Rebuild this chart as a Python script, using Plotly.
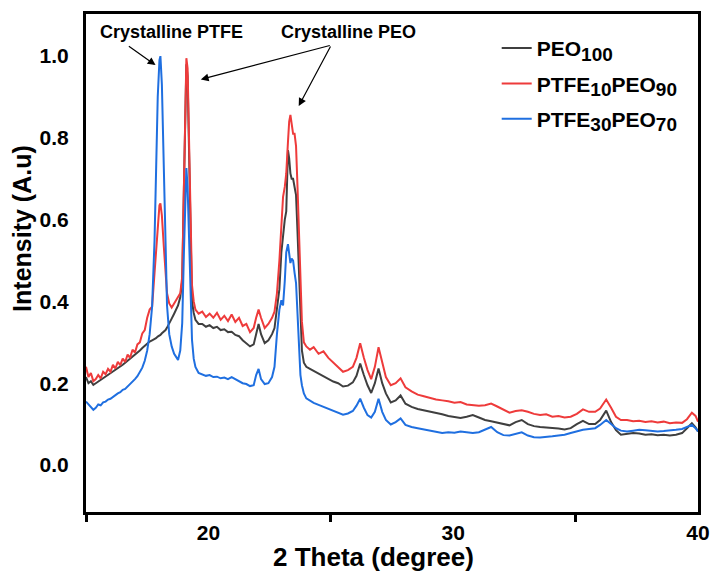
import plotly.graph_objects as go

# 2-theta grid (degrees)
two_theta = [
    15.0, 15.1, 15.2, 15.3, 15.4, 15.5, 15.6, 15.7, 15.8, 15.9, 16.0, 16.1, 16.2, 16.3, 16.4,
    16.5, 16.6, 16.7, 16.8, 16.9, 17.0, 17.1, 17.2, 17.3, 17.4, 17.5, 17.6,
    17.7, 17.8, 17.86, 17.93, 18.0, 18.04, 18.1, 18.18, 18.25, 18.31, 18.4, 18.5, 18.6, 18.7,
    18.76, 18.85, 18.93, 19.0, 19.05, 19.1, 19.15, 19.22, 19.28, 19.33, 19.4, 19.47,
    19.6, 19.75, 19.9, 20.05, 20.2, 20.35, 20.5, 20.65, 20.8, 20.95, 21.1, 21.25, 21.4, 21.55,
    21.7, 21.85, 21.95, 22.05, 22.15, 22.3, 22.45, 22.6, 22.7,
    22.8, 22.9, 22.98, 23.05, 23.12, 23.18, 23.25, 23.3, 23.35, 23.4, 23.46, 23.52, 23.58,
    23.64, 23.7, 23.76, 23.82, 23.9, 24.0,
    24.15, 24.3, 24.5, 24.7, 24.9, 25.1, 25.3, 25.5, 25.7, 25.9, 26.05, 26.2, 26.35, 26.5,
    26.65, 26.8, 26.95, 27.1, 27.25, 27.45, 27.65, 27.85, 28.05, 28.3, 28.55, 28.8, 29.05,
    29.3, 29.55, 29.8, 30.05, 30.3, 30.55, 30.8, 31.05, 31.3, 31.55, 31.8, 32.05, 32.3, 32.55,
    32.8, 33.05, 33.3, 33.55, 33.8, 34.05, 34.3, 34.55, 34.8, 35.05, 35.3, 35.55, 35.8, 36.0,
    36.25, 36.45, 36.65, 36.85, 37.1, 37.35, 37.6, 37.85, 38.1, 38.35, 38.6, 38.85, 39.1,
    39.35, 39.55, 39.75, 39.9, 40.0,
]

peo100 = [
    0.215, 0.2, 0.205, 0.196, 0.2, 0.204, 0.207, 0.212, 0.216, 0.22, 0.224, 0.228, 0.232, 0.236, 0.24,
    0.245, 0.25, 0.255, 0.258, 0.265, 0.268, 0.274, 0.28, 0.286, 0.292, 0.296, 0.302,
    0.305, 0.308, 0.31, 0.314, 0.316, 0.318, 0.322, 0.326, 0.33, 0.336, 0.345, 0.358, 0.37, 0.382,
    0.39, 0.41, 0.45, 0.68, 0.88, 0.98, 0.95, 0.7, 0.5, 0.4, 0.372, 0.355,
    0.345, 0.345, 0.338, 0.342, 0.335, 0.338, 0.33, 0.332, 0.325, 0.326, 0.318, 0.315, 0.305, 0.298,
    0.29, 0.295, 0.32, 0.345, 0.32, 0.298, 0.305, 0.32, 0.335,
    0.38, 0.43, 0.52, 0.567, 0.6, 0.62, 0.77, 0.75, 0.713, 0.7, 0.7, 0.68, 0.66,
    0.57, 0.46, 0.35, 0.28, 0.25, 0.24,
    0.235, 0.23, 0.224, 0.218, 0.212, 0.204, 0.2, 0.192, 0.194, 0.202, 0.218, 0.248, 0.22, 0.195,
    0.176, 0.2, 0.236, 0.2, 0.175, 0.153, 0.158, 0.17, 0.15, 0.142, 0.137, 0.134, 0.131,
    0.128, 0.124, 0.12, 0.118, 0.115, 0.118, 0.122, 0.116, 0.11, 0.107, 0.104, 0.1, 0.097, 0.105,
    0.11, 0.1, 0.095, 0.093, 0.092, 0.09, 0.089, 0.087, 0.09, 0.1, 0.108, 0.1, 0.1, 0.11,
    0.133, 0.105, 0.085, 0.074, 0.076, 0.078, 0.077, 0.074, 0.075, 0.073, 0.074, 0.072, 0.074,
    0.078, 0.09, 0.102, 0.092, 0.082,
]

ptfe10_peo90 = [
    0.24, 0.215, 0.225, 0.205, 0.21, 0.22, 0.212, 0.228, 0.222, 0.235, 0.228, 0.245, 0.236, 0.252, 0.244,
    0.26, 0.252, 0.27, 0.262, 0.282, 0.275, 0.295, 0.3, 0.322, 0.33, 0.36, 0.38,
    0.387, 0.47, 0.52, 0.6, 0.635, 0.64, 0.61, 0.533, 0.46, 0.42, 0.395, 0.385, 0.395, 0.405,
    0.41, 0.42, 0.46, 0.7, 0.9, 0.995, 0.97, 0.75, 0.55, 0.44, 0.4, 0.38,
    0.37, 0.375, 0.362, 0.37, 0.36, 0.372, 0.355, 0.365, 0.352, 0.368, 0.35, 0.36, 0.34, 0.345,
    0.325, 0.335, 0.36, 0.38, 0.36, 0.335, 0.345, 0.36, 0.375,
    0.42, 0.5, 0.6, 0.656, 0.68, 0.713, 0.79, 0.84, 0.856, 0.83, 0.81, 0.81, 0.78,
    0.68, 0.57, 0.45, 0.35, 0.3, 0.29,
    0.282, 0.288, 0.272, 0.278, 0.262, 0.25, 0.238, 0.228, 0.232, 0.24, 0.262, 0.298, 0.262, 0.232,
    0.21, 0.24, 0.288, 0.25, 0.215, 0.195, 0.2, 0.212, 0.19, 0.18, 0.172, 0.168, 0.164,
    0.16, 0.158, 0.156, 0.152, 0.154, 0.148, 0.146, 0.145, 0.146, 0.15, 0.143, 0.136, 0.128, 0.132,
    0.134, 0.13, 0.125, 0.122, 0.124, 0.118, 0.12, 0.116, 0.118, 0.125, 0.136, 0.13, 0.13, 0.138,
    0.16, 0.14, 0.118, 0.11, 0.11, 0.107, 0.108, 0.105, 0.107, 0.104, 0.106, 0.102, 0.104,
    0.103, 0.112, 0.128, 0.12, 0.106,
]

ptfe30_peo70 = [
    0.155, 0.148, 0.14, 0.135, 0.14, 0.148, 0.146, 0.153, 0.155, 0.16, 0.162, 0.167, 0.17, 0.175, 0.178,
    0.184, 0.186, 0.192, 0.196, 0.203, 0.21, 0.217, 0.226, 0.238, 0.255, 0.28, 0.32,
    0.387, 0.55, 0.71, 0.9, 0.99, 1.0, 0.93, 0.71, 0.52, 0.39, 0.32, 0.29, 0.272, 0.262,
    0.257, 0.28, 0.347, 0.52, 0.66, 0.726, 0.68, 0.55, 0.4, 0.306, 0.26, 0.24,
    0.225, 0.222, 0.218, 0.22, 0.215, 0.216, 0.212, 0.214, 0.21, 0.215, 0.21, 0.205, 0.2, 0.198,
    0.193, 0.195, 0.22, 0.235, 0.21, 0.198, 0.2, 0.215, 0.24,
    0.32, 0.38, 0.403, 0.39, 0.45, 0.52, 0.54, 0.51, 0.494, 0.505, 0.5, 0.47, 0.445,
    0.37, 0.28, 0.22, 0.195, 0.175, 0.163,
    0.157, 0.152, 0.147, 0.142, 0.138, 0.133, 0.128, 0.123, 0.126, 0.132, 0.145, 0.162, 0.14, 0.122,
    0.116, 0.13, 0.162, 0.13, 0.11, 0.099, 0.105, 0.114, 0.098, 0.093, 0.09, 0.087, 0.084,
    0.08, 0.078, 0.08, 0.079, 0.082, 0.08, 0.078, 0.08, 0.086, 0.093, 0.08, 0.073, 0.072, 0.076,
    0.08, 0.072, 0.068, 0.067, 0.068, 0.07, 0.072, 0.074, 0.078, 0.082, 0.086, 0.088, 0.09, 0.098,
    0.11, 0.1, 0.09, 0.084, 0.082, 0.084, 0.086, 0.085, 0.083, 0.082, 0.083, 0.084, 0.086,
    0.088, 0.094, 0.098, 0.09, 0.082,
]

SUB = "<sub><span style='font-size:19px'>{}</span></sub>"
series_names = [
    "PEO" + SUB.format("100"),
    "PTFE" + SUB.format("10") + "PEO" + SUB.format("90"),
    "PTFE" + SUB.format("30") + "PEO" + SUB.format("70"),
]
series_values = [peo100, ptfe10_peo90, ptfe30_peo70]
series_colors = ["#3f3f3f", "#ee3b3b", "#1f6fe0"]

y_ticks = [0.0, 0.2, 0.4, 0.6, 0.8, 1.0]
x_ticks = [20, 30, 40]

FONT = "Liberation Sans, Arial, sans-serif"

fig = go.Figure()
for i, (name, vals, col) in enumerate(zip(series_names, series_values, series_colors)):
    fig.add_trace(go.Scatter(
        x=two_theta, y=vals, mode="lines", name=name,
        line=dict(color=col, width=2), legendgroup=f"g{i}",
    ))

# annotations: labels with arrows
ann_font = dict(family=FONT, size=18, color="black", weight="bold")
fig.add_annotation(x=18.49, y=1.059, xref="x", yref="y", text="Crystalline PTFE",
                   showarrow=False, font=ann_font)
fig.add_annotation(x=25.71, y=1.059, xref="x", yref="y", text="Crystalline PEO",
                   showarrow=False, font=ann_font)
arrow_style = dict(showarrow=True, arrowhead=2, arrowsize=1.3, arrowwidth=1.2,
                   arrowcolor="black", text="", xref="x", yref="y", axref="x", ayref="y")
fig.add_annotation(x=17.84, y=0.978, ax=16.69, ay=1.027, **arrow_style)
fig.add_annotation(x=19.69, y=0.943, ax=25.02, ay=1.027, **arrow_style)
fig.add_annotation(x=23.69, y=0.878, ax=25.02, ay=1.027, **arrow_style)

# axis titles
fig.add_annotation(x=0.47, y=-0.091, xref="paper", yref="paper", text="2 Theta (degree)",
                   showarrow=False, xanchor="center", yanchor="middle",
                   font=dict(family=FONT, size=26, color="black", weight="bold"))
fig.add_annotation(x=-0.105, y=0.57, xref="paper", yref="paper", text="Intensity (A.u)",
                   showarrow=False, textangle=-90, xanchor="center", yanchor="middle",
                   font=dict(family=FONT, size=25, color="black", weight="bold"))

fig.update_layout(
    width=714, height=577,
    margin=dict(l=86, r=16, t=14, b=65, autoexpand=False),
    paper_bgcolor="white", plot_bgcolor="white",
    font=dict(family=FONT, color="black"),
    showlegend=True,
    legend=dict(x=0.975, y=0.972, xanchor="right", yanchor="top",
                font=dict(family=FONT, size=21, color="black", weight="bold"),
                bgcolor="rgba(0,0,0,0)", tracegroupgap=5),
    xaxis=dict(range=[15, 40], tickvals=x_ticks, ticks="", showgrid=False, zeroline=False,
               automargin=False,
               showline=True, linecolor="black", linewidth=3, mirror=True,
               tickfont=dict(family=FONT, size=21, color="black", weight="bold"),
               ticklabelstandoff=0,
               minor=dict(tickmode="linear", tick0=15, dtick=10, ticks="outside",
                          ticklen=7, tickwidth=3, tickcolor="black")),
    yaxis=dict(range=[-0.115, 1.103], tickvals=y_ticks, tickformat=".1f", ticks="",
               showgrid=False, zeroline=False, automargin=False,
               showline=True, linecolor="black", linewidth=3, mirror=True,
               tickfont=dict(family=FONT, size=21, color="black", weight="bold"),
               ticklabelstandoff=10),
)

fig.write_html("out.html", config={"displayModeBar": False},
               post_script="document.body.style.margin='0';")
